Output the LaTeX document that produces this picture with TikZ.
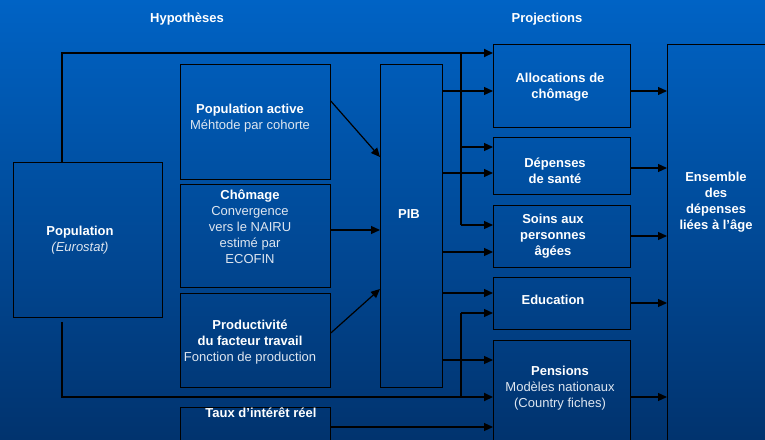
\documentclass[tikz,border=0pt]{standalone}
\usepackage{fontspec}
\setmainfont{Liberation Sans}
\usepackage{tikz}
\usetikzlibrary{positioning}
\usetikzlibrary{arrows.meta}

\definecolor{fondhaut}{RGB}{0,99,197}
\definecolor{fondbas}{RGB}{1,51,110}
\definecolor{clair}{RGB}{222,230,240}
\newcommand{\regtxt}{\mdseries\color{clair}}

\begin{document}
\begin{tikzpicture}[
		x=1pt, y=-1pt,
		box/.style={draw=black, line width=0.8pt, inner sep=0pt, anchor=north west},
		txt/.style={align=center, text=white, inner sep=0pt, font=\fontsize{13}{16}\selectfont\bfseries},
		fl/.style={draw=black, line width=1.2pt, -{Triangle[length=9pt,width=8pt]}},
		bus/.style={draw=black, line width=2pt}
	]
	\clip (0,0) rectangle (765,439);
	\shade[top color=fondhaut, bottom color=fondbas] (0,0) rectangle (765,439);

	\node[txt] (thyp) at (187,19) {Hypothèses};
	\node[txt] (tproj) at (547,19) {Projections};

	% hypotheses
	\node[box, minimum width=149pt, minimum height=155pt] (pop) at (13,162) {};
	\node[box, minimum width=150pt, minimum height=115pt] (pact) at (180,64) {};
	\node[box, minimum width=150pt, minimum height=103pt] (chom) at (180,184) {};
	\node[box, minimum width=150pt, minimum height=94pt] (prod) at (180,293) {};
	\node[box, minimum width=150pt, minimum height=60pt] (taux) at (180,407) {};
	\node[box, minimum width=62pt, minimum height=323pt] (pib) at (380,64) {};

	% projections
	\node[box, minimum width=137pt, minimum height=83pt] (alloc) at (493,44) {};
	\node[box, minimum width=137pt, minimum height=57pt] (dep) at (493,137) {};
	\node[box, minimum width=137pt, minimum height=62pt] (soins) at (493,205) {};
	\node[box, minimum width=137pt, minimum height=52pt] (edu) at (493,277) {};
	\node[box, minimum width=137pt, minimum height=120pt] (pens) at (493,340) {};
	\node[box, minimum width=120pt, minimum height=420pt] (ens) at (667,44) {};

	\node[txt] (tpop) at (80,240) {Population\\\regtxt\itshape (Eurostat)};
	\node[txt] (tpact) at (250,118) {Population active\\\regtxt Méhtode par cohorte};
	\node[txt] (tchom) at (250,227) {Chômage\\\regtxt Convergence\\\regtxt vers le NAIRU\\\regtxt estimé par\\\regtxt ECOFIN};
	\node[txt] (tprod) at (250,342) {Productivité\\du facteur travail\\\regtxt Fonction de production};
	\node[txt] (ttaux) at (261,413) {Taux d’intérêt réel};
	\node[txt] (tpib) at (409,214) {PIB};
	\node[txt] (talloc) at (560,87) {Allocations de\\chômage};
	\node[txt] (tdep) at (555,171) {Dépenses\\de santé};
	\node[txt] (tsoins) at (553,236) {Soins aux\\personnes\\âgées};
	\node[txt] (tedu) at (553,300) {Education};
	\node[txt] (tpens) at (560,388) {Pensions\\\regtxt Modèles nationaux\\\regtxt (Country fiches)};
	\node[txt] (tens) at (716,202) {Ensemble\\des\\dépenses\\liées à l’âge};

	\coordinate (popT) at ([xshift=49pt]pop.north west);
	\coordinate (popB) at ([shift={(49pt,-4pt)}]pop.south west);
	\coordinate (allocA) at ([yshift=-9pt]alloc.north west);
	\coordinate (depA) at ([yshift=-10pt]dep.north west);
	\coordinate (soinsA) at ([yshift=-20pt]soins.north west);
	\coordinate (eduA) at ([yshift=-36pt]edu.north west);
	\coordinate (pensA) at ([yshift=-57pt]pens.north west);
	\coordinate (busT) at (461,53);

	% population lines
	\draw[fl, bus] (popT) |- (allocA);
	\draw[bus] (busT) -- (busT |- soinsA);
	\draw[fl] (busT |- depA) -- (depA);
	\draw[fl] (busT |- soinsA) -- (soinsA);
	\draw[fl, bus] (popB) |- (pensA);
	\draw[bus] (busT |- pensA) -- (busT |- eduA);
	\draw[fl] (busT |- eduA) -- (eduA);
	\draw[fl] ([yshift=-20pt]taux.north east) coordinate (t1) -- (pens.west |- t1);

	% vers PIB
	\draw[fl] ([yshift=-37pt]pact.north east) -- ([yshift=-93pt]pib.north west);
	\draw[fl] ([yshift=-46pt]chom.north east) coordinate (c1) -- (pib.west |- c1);
	\draw[fl] ([yshift=-40pt]prod.north east) -- ([yshift=-225pt]pib.north west);

	% PIB vers projections
	\draw[fl] (pib.east |- 0,91) -- (alloc.west |- 0,91);
	\draw[fl] (pib.east |- 0,173) -- (dep.west |- 0,173);
	\draw[fl] (pib.east |- 0,252) -- (soins.west |- 0,252);
	\draw[fl] (pib.east |- 0,293) -- (edu.west |- 0,293);
	\draw[fl] (pib.east |- 0,360) -- (pens.west |- 0,360);

	% vers ensemble
	\draw[fl] (alloc.east |- 0,91) -- (ens.west |- 0,91);
	\draw[fl] (dep.east |- 0,168) -- (ens.west |- 0,168);
	\draw[fl] (soins.east |- 0,236) -- (ens.west |- 0,236);
	\draw[fl] (edu.east |- 0,303) -- (ens.west |- 0,303);
	\draw[fl] (pens.east |- 0,397) -- (ens.west |- 0,397);
\end{tikzpicture}
\end{document}
